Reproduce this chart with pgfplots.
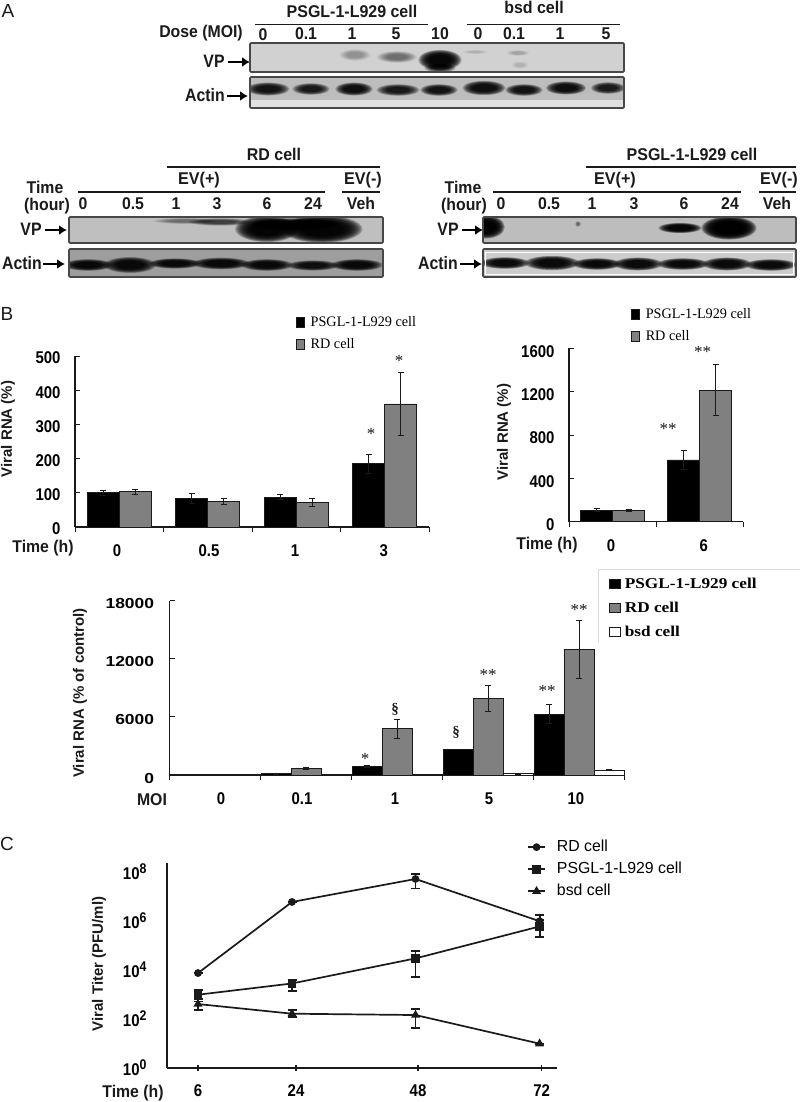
\documentclass[border=0pt]{standalone}
\usepackage{graphicx}
\usepackage{fontspec}
\setmainfont{Liberation Sans}
\newfontfamily\ser{Liberation Serif}
\usepackage{pgfplots}
\pgfplotsset{compat=1.18}
\usepackage{pgfplotstable}
\usetikzlibrary{arrows.meta}

\definecolor{barg}{HTML}{808080}
\definecolor{ink}{HTML}{1A1A1A}

% ---------- text helpers (pixel coordinates) ----------
\newcommand{\lab}[5]{\node[inner sep=0pt,text=ink] at (#1,#2) {\fontsize{#3}{#3}\selectfont\bfseries\scalebox{#4}[1]{#5}};}
\newcommand{\rlab}[5]{\node[inner sep=0pt,text=ink,rotate=90] at (#1,#2) {\fontsize{#3}{#3}\selectfont\bfseries\scalebox{#4}[1]{#5}};}
\newcommand{\sig}[3]{\node[inner sep=0pt,text=ink] at (#1,#2) {\fontsize{17}{17}\selectfont\ser #3};}
\newcommand{\hl}[3]{\draw[line width=1.2pt,ink] (#1,#3) -- (#2,#3);}
\newcommand{\arr}[3]{\draw[line width=2.4pt,black,-{Latex[length=8pt,width=10pt]}] (#1,#3) -- (#2,#3);}
\newcommand{\nar}[1]{\fontsize{17}{17}\selectfont\bfseries\scalebox{0.88}[1]{#1}}
\newcommand{\powr}[1]{\nar{10\raisebox{6pt}{\fontsize{14}{14}\selectfont #1}}}
\newcommand{\wid}[1]{\fontsize{14.5}{15}\selectfont\bfseries\scalebox{1.2}[1]{#1}}
\newcommand{\legt}[1]{\hspace{6pt}\fontsize{14.5}{14.5}\selectfont\ser\scalebox{0.98}[1]{#1}}
\newcommand{\legb}[1]{\hspace{4pt}\fontsize{15}{15}\selectfont\ser\bfseries\scalebox{1.15}[1]{#1}}
\newcommand{\legc}[1]{\hspace{11pt}\fontsize{16}{16}\selectfont\scalebox{0.99}[1]{#1}}

% ---------- blot helpers ----------
\newcommand{\band}[5]{\pgfmathsetmacro\op{#5*0.62}\foreach \s in {1.45,1.4,1.35,1.3,1.25,1.2,1.15,1.1,1.05,1.0,0.95,0.9,0.85,0.8,0.75,0.7}{%
  \fill[black,opacity=\op] (#1,#2) ellipse [x radius=\s*#3, y radius=\s*#4];}}
\newcommand{\frm}[4]{\draw[line width=1.6pt,color=black!72,rounded corners=1pt] (#1,#3) rectangle (#2,#4);}

\pgfplotsset{
  fig/.style={scale only axis, axis lines=left, axis line style={-,line width=1.2pt,ink},
     tick style={line width=1pt,ink}, tick align=inside, major tick length=5pt,
     clip=false, ymin=0, scaled y ticks=false},
  bare/.style={fill=#1,draw=ink,line width=0.7pt,
     error bars/y dir=both, error bars/y explicit,
     error bars/error bar style={line width=0.9pt,ink},
     error bars/error mark options={rotate=90,mark size=3pt,line width=0.9pt,ink}},
  blegend/.style={legend cell align=left, 
     legend image code/.code={\draw[##1,line width=0.6pt] (0pt,-5pt) rectangle (8pt,5pt);}},
  cplot/.style={line width=1.7pt,color=ink,mark options={fill=ink,draw=ink},
     error bars/y dir=both, error bars/y explicit,
     error bars/error bar style={line width=1.8pt,ink},
     error bars/error mark options={rotate=90,mark size=4.5pt,line width=1.8pt,ink}}
}

\begin{document}
\begin{tikzpicture}
\useasboundingbox (0pt,-1102pt) rectangle (800pt,0pt);

% ==================== PANEL A (blots) ====================
\begin{scope}[x=1pt,y=-1pt]
\node[inner sep=0pt,text=ink] at (8,11) {\fontsize{19}{19}\selectfont A};
\node[inner sep=0pt,text=ink] at (7,314) {\fontsize{19}{19}\selectfont B};
\node[inner sep=0pt,text=ink] at (7,844) {\fontsize{19}{19}\selectfont C};

% top blot
\lab{352}{11}{17}{0.94}{PSGL-1-L929 cell}
\lab{534}{7}{17}{0.94}{bsd cell}
\hl{255}{428}{24.5}\hl{467}{620}{24.5}
\lab{201}{33}{17}{0.93}{Dose (MOI)}
\lab{263}{35}{17}{0.93}{0}\lab{306}{34}{17}{0.93}{0.1}\lab{352}{34}{17}{0.93}{1}\lab{396}{34}{17}{0.93}{5}\lab{440}{34}{17}{0.93}{10}
\lab{478}{34}{17}{0.93}{0}\lab{514}{34}{17}{0.93}{0.1}\lab{560}{34}{17}{0.93}{1}\lab{606}{34}{17}{0.93}{5}
\lab{214}{61}{18}{0.88}{VP}\arr{228}{250}{62}
\lab{205}{95}{18}{0.88}{Actin}\arr{227}{248}{96}

\begin{scope}
\clip (250,43) rectangle (624,72);
\fill[black!18] (250,43) rectangle (624,72);
\band{355}{55}{11}{4}{0.03}\band{397}{57}{14}{4}{0.055}
\band{440}{60}{15}{7}{0.28}\band{440}{68}{11}{3}{0.12}
\band{475}{52}{9}{1.5}{0.012}\band{518}{53}{8}{2}{0.018}\band{520}{65}{6}{2.5}{0.012}
\end{scope}
\frm{250}{624}{43}{72}
\begin{scope}
\clip (250,77) rectangle (624,108);
\fill[black!26] (250,77) rectangle (624,108);
\fill[black!12] (250,100) rectangle (624,108);
\band{268}{89}{15}{4.5}{0.2}\band{311}{89}{13}{4}{0.18}\band{354}{89}{13}{4.5}{0.22}
\band{398}{90}{15}{4}{0.18}\band{439}{90}{13}{4}{0.2}\band{484}{88}{15}{5}{0.22}
\band{524}{90}{13}{4}{0.2}\band{566}{88}{14}{4.5}{0.23}\band{608}{88}{12}{4}{0.18}
\end{scope}
\frm{250}{624}{77}{108}

% bottom left blot
\lab{274}{154}{17}{0.94}{RD cell}
\hl{167}{380}{167}
\lab{199}{180}{17}{0.95}{EV(+)}\hl{78}{325}{192}
\lab{363}{180}{17}{0.95}{EV(-)}\hl{342}{380}{192}
\lab{45}{187}{17}{0.93}{Time}\lab{47}{206}{17}{0.93}{(hour)}
\lab{83}{204}{17}{0.93}{0}\lab{133}{204}{17}{0.93}{0.5}\lab{176}{204}{17}{0.93}{1}\lab{217}{204}{17}{0.93}{3}\lab{267}{204}{17}{0.93}{6}\lab{313}{204}{17}{0.93}{24}\lab{361}{203}{17}{0.93}{Veh}
\lab{31}{229}{18}{0.88}{VP}\arr{45}{67}{230}
\lab{22}{263}{18}{0.88}{Actin}\arr{43}{65}{264}
\begin{scope}
\clip (69,217) rectangle (383,243);
\fill[black!25] (69,217) rectangle (383,243);
\band{185}{221}{22}{2}{0.05}\band{220}{222}{22}{2.5}{0.1}
\band{267}{229}{22}{9}{0.3}\band{322}{229}{28}{9.5}{0.32}\band{295}{224}{30}{4}{0.2}
\end{scope}
\frm{69}{383}{217}{243}
\begin{scope}
\clip (69,249) rectangle (383,277);
\fill[black!38] (69,249) rectangle (383,277);
\band{88}{265}{17}{4}{0.24}\band{130}{265}{18}{5.5}{0.24}\band{175}{263.5}{18}{3.5}{0.24}
\band{221}{263.5}{20}{4}{0.24}\band{267}{265}{18}{4}{0.24}\band{313}{265.5}{18}{3.5}{0.2}\band{357}{265}{18}{4}{0.24}
\end{scope}
\frm{69}{383}{249}{277}

% bottom right blot
\lab{692}{154}{17}{0.94}{PSGL-1-L929 cell}
\hl{586}{796}{167}
\lab{615}{180}{17}{0.95}{EV(+)}\hl{493}{741}{192}
\lab{779}{180}{17}{0.95}{EV(-)}\hl{759}{796}{192}
\lab{463}{187}{17}{0.93}{Time}\lab{464}{206}{17}{0.93}{(hour)}
\lab{501}{204}{17}{0.93}{0}\lab{549}{204}{17}{0.93}{0.5}\lab{592}{204}{17}{0.93}{1}\lab{634}{204}{17}{0.93}{3}\lab{684}{204}{17}{0.93}{6}\lab{730}{204}{17}{0.93}{24}\lab{777}{203}{17}{0.93}{Veh}
\lab{448}{229}{18}{0.88}{VP}\arr{462}{483}{230}
\lab{438}{263}{18}{0.88}{Actin}\arr{460}{482}{264}
\begin{scope}
\clip (483,217) rectangle (796,243);
\fill[black!26] (483,217) rectangle (796,243);
\band{486}{227}{13}{8}{0.33}
\band{680}{228}{15}{3.5}{0.28}\band{729}{228}{19}{8}{0.38}
\band{578}{224}{2}{2}{0.06}
\end{scope}
\frm{483}{796}{217}{243}
\begin{scope}
\clip (483,249) rectangle (796,277);
\fill[black!20] (483,249) rectangle (796,277);
\band{505}{263}{17}{4}{0.25}\band{552}{263}{19}{5}{0.25}\band{597}{264}{17}{4}{0.25}
\band{638}{264}{17}{4.5}{0.25}\band{683}{264}{18}{4}{0.25}\band{727}{264}{17}{4.5}{0.25}\band{771}{265}{18}{4}{0.25}
\draw[white,line width=1pt] (485.5,252) rectangle (793.5,274.5);
\end{scope}
\frm{483}{796}{249}{277}

% ----- panel B / C annotation texts -----
\rlab{8}{429}{15}{1}{Viral RNA (\%)}
\lab{43}{548}{17}{0.93}{Time (h)}
\sig{371}{434}{*}\sig{399}{361}{*}

\rlab{504}{432}{15}{1}{Viral RNA (\%)}
\lab{547}{545}{17}{0.93}{Time (h)}
\sig{668}{429}{**}\sig{702.5}{352}{**}

\rlab{80}{693}{15}{1}{Viral RNA (\% of control)}
\lab{152}{800}{17}{0.93}{MOI}
\sig{365}{759}{*}\node[inner sep=0pt,text=ink] at (395,709) {\fontsize{15}{15}\selectfont\ser\bfseries\S};
\node[inner sep=0pt,text=ink] at (456,732) {\fontsize{15}{15}\selectfont\ser\bfseries\S};
\sig{488}{675}{**}\sig{547}{691}{**}\sig{579}{610}{**}
\draw[black!15,line width=1pt] (598,643) -- (598,569) -- (800,569);

\rlab{99}{964}{15}{1}{Viral Titer (PFU/ml)}
\lab{133}{1093}{17}{0.93}{Time (h)}
\end{scope}

% ==================== PANEL B1 ====================
\begin{axis}[fig, at={(75pt,-527pt)}, anchor=south west, width=354pt, height=171pt,
  ybar=0pt, bar width=32pt, xmin=0, xmax=4, ymax=500,
  xtick={0,1,2,3,4}, xticklabels={},
  extra x ticks={0.475,1.514,2.486,3.49},
  extra x tick labels={\nar{0},\nar{0.5},\nar{1},\nar{3}},
  extra x tick style={tick style={draw=none},xticklabel style={yshift=-9pt}},
  ytick={0,100,200,300,400,500},
  yticklabels={\nar{0},\nar{100},\nar{200},\nar{300},\nar{400},\nar{500}},
  yticklabel style={xshift=-11pt,yshift=-2pt},
  blegend, legend style={at={(0.624,1.234)},anchor=north west,draw=none,fill=none,inner sep=0pt,
     row sep=10pt,nodes={inner sep=0pt,text height=10pt,text depth=2pt}},
]
\addplot[bare=black] table[x=x,y=y,y error=e]{
x y e
0.5 100 8
1.5 83 14
2.5 87 7
3.5 185 28
};
\addlegendentry{\legt{PSGL-1-L929 cell}}
\addplot[bare=barg] table[x=x,y=y,y error=e]{
x y e
0.5 103 7
1.5 75 8
2.5 72 11
3.5 360 92
};
\addlegendentry{\legt{RD cell}}
\end{axis}

% ==================== PANEL B2 ====================
\begin{axis}[fig, at={(569pt,-521.7pt)}, anchor=south west, width=174pt, height=173.4pt,
  ybar=0pt, bar width=32pt, xmin=0, xmax=2, ymax=1600,
  xtick={0,1,2}, xticklabels={},
  extra x ticks={0.483,1.55},
  extra x tick labels={\nar{0},\nar{6}},
  extra x tick style={tick style={draw=none},xticklabel style={yshift=-9pt}},
  ytick={0,400,800,1200,1600},
  yticklabels={\nar{0},\nar{400},\nar{800},\nar{1200},\nar{1600}},
  yticklabel style={xshift=-11pt,yshift=-3pt},
  blegend, legend style={at={(0.356,1.233)},anchor=north west,draw=none,fill=none,inner sep=0pt,
     row sep=10pt,nodes={inner sep=0pt,text height=10pt,text depth=2pt}},
]
\addplot[bare=black] table[x=x,y=y,y error=e]{
x y e
0.5 108 10
1.5 570 90
};
\addlegendentry{\legt{PSGL-1-L929 cell}}
\addplot[bare=barg] table[x=x,y=y,y error=e]{
x y e
0.5 105 10
1.5 1215 232
};
\addlegendentry{\legt{RD cell}}
\end{axis}

% ==================== PANEL B3 ====================
\begin{axis}[fig, at={(169.5pt,-775pt)}, anchor=south west, width=455pt, height=174.3pt,
  ybar=0pt, bar width=30pt, xmin=0, xmax=5, ymax=18000,
  xtick={0,1,2,3,4,5}, xticklabels={},
  extra x ticks={0.566,1.456,2.478,3.51,4.467},
  extra x tick labels={\nar{0},\nar{0.1},\nar{1},\nar{5},\nar{10}},
  extra x tick style={tick style={draw=none},xticklabel style={yshift=-9pt}},
  ytick={0,6000,12000,18000},
  yticklabels={\wid{0},\wid{6000},\wid{12000},\wid{18000}},
  yticklabel style={xshift=-12pt,yshift=-3pt},
  blegend, legend image code/.code={\draw[#1,line width=0.6pt] (0pt,-4.5pt) rectangle (11pt,4.5pt);},
  legend style={at={(0.966,1.13)},anchor=north west,draw=none,fill=none,inner sep=0pt,
     row sep=12pt,nodes={inner sep=0pt,text height=10pt,text depth=2pt}},
]
\addplot[bare=black] table[x=x,y=y,y error=e]{
x y e
0.5 100 0
1.5 150 50
2.5 930 100
3.5 2650 0
4.5 6300 1000
};
\addlegendentry{\legb{PSGL-1-L929 cell}}
\addplot[bare=barg] table[x=x,y=y,y error=e]{
x y e
0.5 100 0
1.5 690 100
2.5 4780 960
3.5 7900 1300
4.5 13000 3000
};
\addlegendentry{\legb{RD cell}}
\addplot[bare=white] table[x=x,y=y,y error=e]{
x y e
0.5 100 0
1.5 60 0
2.5 100 0
3.5 150 50
4.5 520 100
};
\addlegendentry{\legb{bsd cell}}
\end{axis}

% ==================== PANEL C ====================
\begin{axis}[scale only axis, axis lines=left, axis line style={-,line width=1.4pt,ink},
  at={(167pt,-1068pt)}, anchor=south west, width=390pt, height=205pt,
  clip=false, xmin=0, xmax=390, ymode=log, ymin=1, ymax=2.19e8,
  xtick={31,129,251,374.6},
  xticklabels={\nar{6},\nar{24},\nar{48},\nar{72}},
  xtick align=center, 
  x tick style={line width=1.2pt,ink}, major tick length=6pt,
  y tick style={draw=none}, minor y tick style={draw=none}, yminorticks=false,
  xticklabel style={yshift=-10pt},
  ytick={1,100,10000,1000000,100000000},
  yticklabels={\powr{0},\powr{2},\powr{4},\powr{6},\powr{8}},
  yticklabel style={xshift=-14pt},
  legend cell align=left,
  legend style={at={(0.923,1.11)},anchor=north west,draw=none,fill=none,inner sep=0pt,
     row sep=9pt,nodes={inner sep=0pt,text height=11pt,text depth=2pt}},
]
\addplot[cplot,mark=*,mark size=3pt] table[x=x,y=y,y error plus=p,y error minus=m]{
x y p m
31 7300 0 0
125 5.7e6 0 0
248.5 4.9e7 3.1e7 2.9e7
372.6 9.4e5 7.3e5 4.5e5
};
\addlegendentry{\legc{RD cell}}
\addplot[cplot,mark=square*,mark size=3.5pt] table[x=x,y=y,y error plus=p,y error minus=m]{
x y p m
31 960 485 447
125 2750 1140 1400
248.5 28800 27200 23800
372.6 5.75e5 4.95e5 3.65e5
};
\addlegendentry{\legc{PSGL-1-L929 cell}}
\addplot[cplot,mark=triangle*,mark size=3.5pt] table[x=x,y=y,y error plus=p,y error minus=m]{
x y p m
31 400 245 165
125 162 60 47
248.5 143 108 99
372.6 9.8 0 0
};
\addlegendentry{\legc{bsd cell}}
\end{axis}
\end{tikzpicture}
\end{document}
